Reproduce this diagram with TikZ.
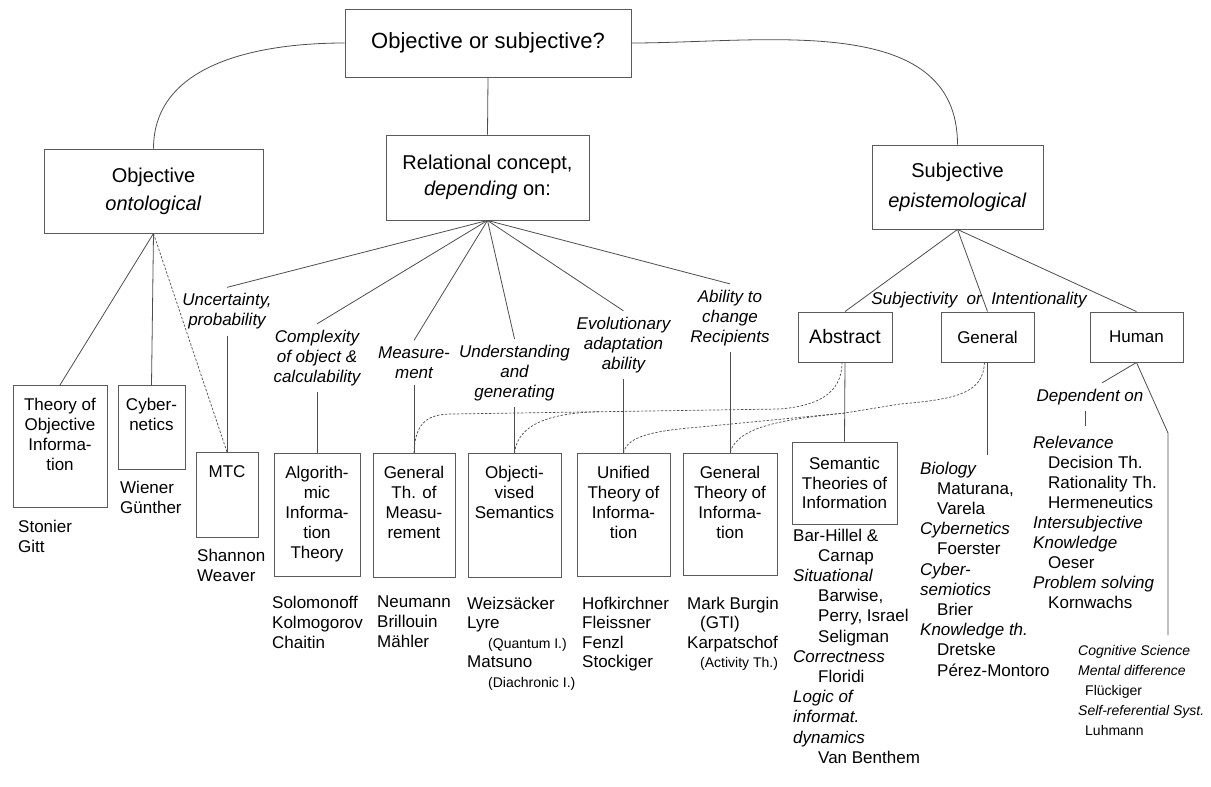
\documentclass[tikz,border=0pt]{standalone}
\usepackage{fontspec}
\setmainfont{Liberation Sans}
\usetikzlibrary{positioning, calc}
\definecolor{linegray}{HTML}{4D4D4D}
\definecolor{boxgray}{HTML}{5A5A5A}

\begin{document}
\begin{tikzpicture}[x=1pt, y=1pt,
    box/.style={draw=boxgray, line width=0.9pt, inner sep=0pt},
    lvl/.style={box, align=center, font=\fontsize{20}{28}\selectfont},
    tall/.style={box, anchor=north},
    boxtext/.style={align=center, inner sep=0pt, font=\fontsize{17}{20}\selectfont},
    crit/.style={align=center, inner sep=6pt, font=\fontsize{17}{20}\selectfont\itshape},
    names/.style={align=left, anchor=north west, inner sep=0pt, font=\fontsize{17}{20.2}\selectfont},
    link/.style={draw=linegray, line width=0.8pt},
    dotlink/.style={draw=linegray, line width=0.7pt, dash pattern=on 2.4pt off 1.6pt}]
  \useasboundingbox (0,0) rectangle (1211,-787);

  % Pregunta principal
  \node[box, minimum width=286pt, minimum height=68pt, font=\fontsize{22}{26}\selectfont] (top) at (488,-43) {Objective or subjective?};

  % Tres enfoques
  \node[lvl, minimum width=219pt, minimum height=84pt] (obj) at (153.5,-191) {Objective\\\textit{ontological}};
  \node[lvl, minimum width=203pt, minimum height=85pt, font=\fontsize{20}{26}\selectfont] (rel) at (487.5,-177.5) {Relational concept,\\\textit{depending} on:};
  \node[lvl, minimum width=171pt, minimum height=84pt, font=\fontsize{20}{30}\selectfont] (subj) at (957.5,-187) {Subjective\\\textit{epistemological}};
  \draw[link] (top.west) to[out=180, in=90] (obj.north);
  \draw[link] (top.east) to[out=0, in=90] (subj.north);
  \draw[link] (top.south) -- (rel.north);

  % Rama objetiva
  \node[tall, minimum width=94pt, minimum height=122pt] (toi) at (60,-385) {};
  \node[boxtext, below=13pt of toi.north] (toitxt) {Theory of\\Objective\\Informa-\\tion};
  \node[tall, minimum width=67pt, minimum height=84pt] (cyb) at (151.5,-385) {};
  \node[boxtext, below=13pt of cyb.north] (cybtxt) {Cyber-\\netics};
  \node[tall, minimum width=62pt, minimum height=85pt] (mtc) at (227,-452) {};
  \node[boxtext, below=13pt of mtc.north] (mtctxt) {MTC};
  \draw[link] (obj.south) -- (toi.north);
  \draw[link] (obj.south) -- (cyb.north);
  \draw[dotlink] (obj.south) -- (mtc.north);
  \node[names] (stonier) at (18,-519.5) {Stonier\\Gitt};
  \node[names] (wiener) at (120,-480.5) {Wiener\\Günther};
  \node[names] (shannon) at (197,-548.5) {Shannon\\Weaver};

  % Rama relacional: criterios
  \node[crit] (unc) at (227,-311.5) {Uncertainty,\\probability};
  \node[crit] (cmp) at (317,-358) {Complexity\\of object \&\\calculability};
  \node[crit] (mea) at (414,-362.5) {Measure-\\ment};
  \node[crit] (und) at (514.5,-373) {Understanding\\and\\generating};
  \node[crit] (evo) at (623.5,-345) {Evolutionary\\adaptation\\ability};
  \node[crit] (abi) at (730,-318) {Ability to\\change\\Recipients};
  \foreach \c in {unc, cmp, mea, und, evo, abi}
    \draw[link] (rel.south) -- (\c.north);

  % Rama relacional: teorias
  \node[tall, minimum width=86pt, minimum height=123pt] (alg) at (317,-453) {};
  \node[boxtext, below=13pt of alg.north] (algtxt) {Algorith-\\mic\\Informa-\\tion\\Theory};
  \node[tall, minimum width=82pt, minimum height=124pt] (gtm) at (414,-453) {};
  \node[boxtext, below=13pt of gtm.north] (gtmtxt) {General\\Th. of\\Measu-\\rement};
  \node[tall, minimum width=93pt, minimum height=124pt] (obs) at (514.5,-453) {};
  \node[boxtext, below=13pt of obs.north] (obstxt) {Objecti-\\vised\\Semantics};
  \node[tall, minimum width=93pt, minimum height=123pt] (uti) at (623.5,-453) {};
  \node[boxtext, below=13pt of uti.north] (utitxt) {Unified\\Theory of\\Informa-\\tion};
  \node[tall, minimum width=94pt, minimum height=122pt] (gti) at (730,-453) {};
  \node[boxtext, below=13pt of gti.north] (gtitxt) {General\\Theory of\\Informa-\\tion};
  \draw[link] (unc.south) -- (mtc.north);
  \draw[link] (cmp.south) -- (alg.north);
  \draw[link] (mea.south) -- (gtm.north);
  \draw[link] (und.south) -- (obs.north);
  \draw[link] (evo.south) -- (uti.north);
  \draw[link] (abi.south) -- (gti.north);
  \node[names] (solomonoff) at (272,-595.5) {Solomonoff\\Kolmogorov\\Chaitin};
  \node[names] (neumann) at (377,-595.5) {Neumann\\Brillouin\\Mähler};
  \node[names, font=\fontsize{17}{19.6}\selectfont] (weizs) at (467,-596.5) {Weizsäcker\\Lyre\\\hspace*{21pt}{\fontsize{14}{16}\selectfont(Quantum I.)}\\Matsuno\\\hspace*{21pt}{\fontsize{14}{16}\selectfont(Diachronic I.)}};
  \node[names, font=\fontsize{17}{19.6}\selectfont] (hofk) at (582,-596.5) {Hofkirchner\\Fleissner\\Fenzl\\Stockiger};
  \node[names, font=\fontsize{17}{19.6}\selectfont] (burgin) at (687,-596.5) {Mark Burgin\\\hspace*{13pt}(GTI)\\Karpatschof\\\hspace*{13pt}{\fontsize{14}{16}\selectfont(Activity Th.)}};

  % Rama subjetiva
  \node[box, minimum width=94pt, minimum height=50pt, font=\fontsize{19.5}{24}\selectfont] (abs) at (845,-337) {Abstract};
  \node[box, minimum width=93pt, minimum height=50pt, font=\fontsize{17}{20}\selectfont] (gen) at (987.5,-337) {General};
  \node[box, minimum width=93pt, minimum height=50pt, font=\fontsize{17}{20}\selectfont] (hum) at (1136.5,-337) {Human};
  \foreach \c in {abs, gen, hum}
    \draw[link] (subj.south) -- (\c.north);
  \node[crit, inner sep=0pt] (subjlab) at (979,-300) {Subjectivity\ \ or\ \ Intentionality};
  \node[box, minimum width=105pt, minimum height=82pt, align=center, font=\fontsize{17}{19.5}\selectfont] (sem) at (844.5,-483) {Semantic\\Theories of\\Information};
  \draw[link] (abs.south) -- (sem.north);
  \node[names] (barhillel) at (793,-528.5) {Bar-Hillel \&\\\hspace*{25pt}Carnap\\\textit{Situational}\\\hspace*{25pt}Barwise,\\\hspace*{25pt}Perry, Israel\\\hspace*{25pt}Seligman\\\textit{Correctness}\\\hspace*{25pt}Floridi\\\textit{Logic of}\\\textit{informat.}\\\textit{dynamics}\\\hspace*{25pt}Van Benthem};

  \coordinate (genend) at (987.5,-455);
  \draw[link] (gen.south) -- (genend);
  \node[names] (biology) at (920,-461.5) {\textit{Biology}\\\hspace*{17pt}Maturana,\\\hspace*{17pt}Varela\\\textit{Cybernetics}\\\hspace*{17pt}Foerster\\\textit{Cyber-}\\\textit{semiotics}\\\hspace*{17pt}Brier\\\textit{Knowledge th.}\\\hspace*{17pt}Dretske\\\hspace*{17pt}Pérez-Montoro};

  \node[crit] (dep) at (1090,-397) {Dependent on};
  \coordinate (humbend) at (1168,-433);
  \coordinate (humend) at (1168,-635);
  \draw[link] (hum.south) -- ([xshift=12pt]dep.north);
  \draw[link] (hum.south) -- (humbend) -- (humend);
  \draw[link] ([xshift=-5pt]dep.south) -- ++(0,-15);
  \node[names, font=\fontsize{17}{20.1}\selectfont] (relev) at (1033,-435.5) {\textit{Relevance}\\\hspace*{15pt}Decision Th.\\\hspace*{15pt}Rationality Th.\\\hspace*{15pt}Hermeneutics\\\textit{Intersubjective}\\\textit{Knowledge}\\\hspace*{15pt}Oeser\\\textit{Problem solving}\\\hspace*{15pt}Kornwachs};
  \node[names, font=\fontsize{14}{20}\selectfont] (cogsci) at (1078,-644.7) {\textit{Cognitive Science}\\\textit{Mental difference}\\\hspace*{7pt}Flückiger\\\textit{Self-referential Syst.}\\\hspace*{7pt}Luhmann};

  % Relaciones punteadas
  \coordinate (absjoin) at (600,-411.7);
  \coordinate (genjoin) at (845,-413);
  \draw[dotlink] (gtm.north) .. controls (415,-425) and (425,-414) .. (452,-414) -- (780,-409) .. controls (815,-406) and (842,-395) .. ([xshift=-3pt]abs.south);
  \draw[dotlink] (obs.north) .. controls (517,-432) and (535,-413) .. (absjoin);
  \draw[dotlink] ([xshift=-3pt]gen.south) .. controls (983,-392) and (960,-399) .. (900,-404) -- (genjoin) -- (700,-427) .. controls (650,-431) and (627,-437) .. (uti.north);
  \draw[dotlink] (genjoin) .. controls (790,-419) and (737,-425) .. (gti.north);
\end{tikzpicture}
\end{document}
